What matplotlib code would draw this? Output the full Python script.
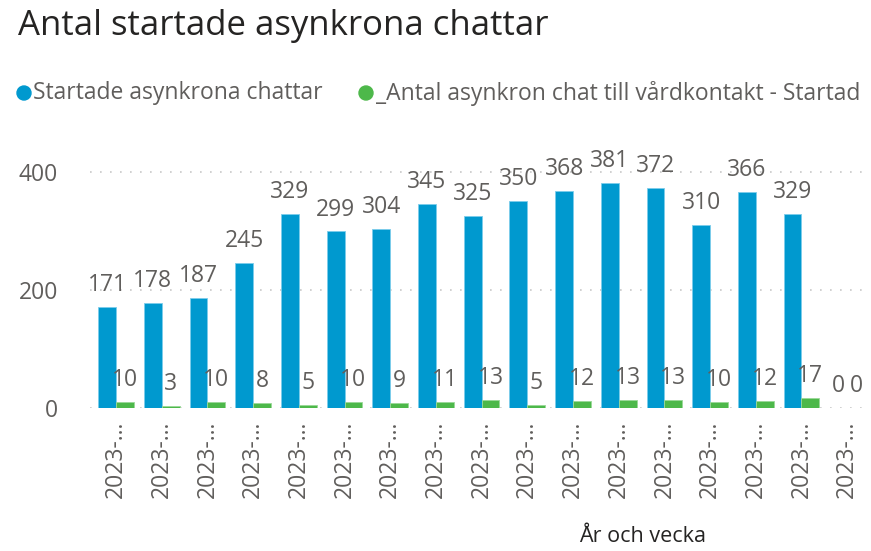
import matplotlib
matplotlib.use("Agg")
import matplotlib.pyplot as plt
import numpy as np

categories = ["2023-…"] * 17
startade = [171, 178, 187, 245, 329, 299, 304, 345, 325, 350, 368, 381, 372, 310, 366, 329, 0]
vardkontakt = [10, 3, 10, 8, 5, 10, 9, 11, 13, 5, 12, 13, 13, 10, 12, 17, 0]
series_names = ["Startade asynkrona chattar", "_Antal asynkron chat till vårdkontakt - Startad"]
yticks = [0, 200, 400]

BLUE = "#0099CF"
GREEN = "#4DB84A"
TXT = "#605E5C"
plt.rcParams['font.family'] = ['Open Sans', 'DejaVu Sans']

fig = plt.figure(figsize=(8.71, 5.51), dpi=100)
W, H = 871, 551
left, right, bottom, top = 90, 870, 408, 150
ax = fig.add_axes([left / W, 1 - bottom / H, (right - left) / W, (bottom - top) / H])

x = np.arange(len(categories))
bw = 0.39
ax.bar(x - bw / 2, startade, width=bw, color=BLUE, edgecolor="#7CCDEB", linewidth=0.6)
ax.bar(x + bw / 2, vardkontakt, width=bw, color=GREEN, edgecolor="#9AD898", linewidth=0.6)

for xi, v in zip(x - bw / 2, startade):
    ax.annotate(str(v), (xi, v), xytext=(0, 11.5), textcoords="offset points",
                ha="center", va="baseline", fontsize=16.5, color=TXT)
for xi, v in zip(x + bw / 2, vardkontakt):
    ax.annotate(str(v), (xi, v), xytext=(0, 11.5), textcoords="offset points",
                ha="center", va="baseline", fontsize=16.5, color=TXT)

ax.set_ylim(0, 437)
ax.set_xlim(-0.57, 16.5)
ax.set_yticks(yticks)
ax.set_yticklabels([str(t) for t in yticks], fontsize=16.5, color=TXT)
ax.set_xticks(x)
ax.set_xticklabels(categories, rotation=90, fontsize=16.5, color=TXT)
ax.tick_params(axis="both", length=0)
ax.tick_params(axis="x", pad=9)
ax.tick_params(axis="y", pad=23)
for s in ax.spines.values():
    s.set_visible(False)
ax.grid(axis="y", linestyle=(0, (1, 5)), color="#C8C8C8", linewidth=1.2)
ax.set_axisbelow(True)

fig.text(18 / W, 1 - 26 / H, "Antal startade asynkrona chattar", fontsize=25, color="#252423",
         ha="left", va="center")

# legend
ly = 1 - 93 / H
fig.patches.append(matplotlib.patches.Ellipse((24 / W, ly), 14 / W, 14 / H, transform=fig.transFigure,
                                              color=BLUE, figure=fig))
fig.text(33 / W, ly, series_names[0], fontsize=16.5, color=TXT, ha="left", va="center")
fig.patches.append(matplotlib.patches.Ellipse((366 / W, ly), 14 / W, 14 / H, transform=fig.transFigure,
                                              color=GREEN, figure=fig))
fig.text(376 / W, ly, series_names[1], fontsize=16.5, color=TXT, ha="left", va="center")

fig.text(643 / W, 1 - 537 / H, "År och vecka", fontsize=15.5, color="#252423", ha="center", va="center")

fig.savefig("out.png", dpi=100)
